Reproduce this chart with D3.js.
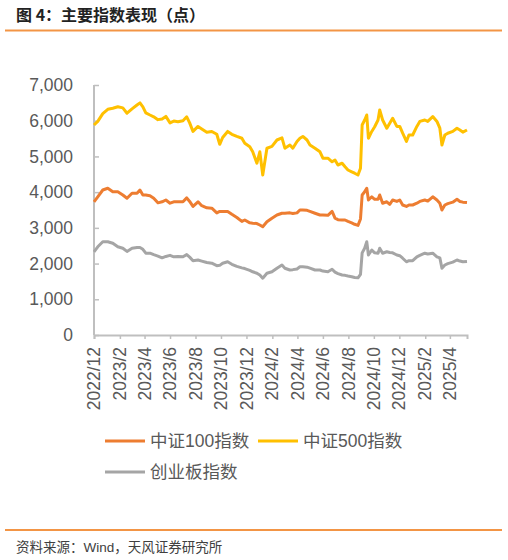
<!DOCTYPE html>
<html>
<head>
<meta charset="utf-8">
<script src="https://cdn.jsdelivr.net/npm/d3@7"></script>
<style>
  body { margin: 0; background: #fff; }
  svg text { font-family: "Liberation Sans", Arial, "Noto Sans CJK SC", sans-serif; }
  svg text.cjk { font-family: "Noto Sans CJK SC", sans-serif; }
</style>
</head>
<body>
<div id="chart"></div>
<script>
const dates = ["2022-12-01","2022-12-10","2022-12-22","2023-01-03","2023-01-15","2023-01-27","2023-02-08","2023-02-18",
  "2023-03-02","2023-03-14","2023-03-21","2023-03-28","2023-04-04","2023-04-14","2023-04-23","2023-05-03","2023-05-13",
  "2023-05-22","2023-06-01","2023-06-10","2023-06-20","2023-07-02","2023-07-11","2023-07-18","2023-07-26","2023-08-07",
  "2023-08-16","2023-08-28","2023-09-09","2023-09-21","2023-09-28","2023-10-05","2023-10-17","2023-10-27","2023-11-08",
  "2023-11-20","2023-11-27","2023-12-09","2023-12-16","2023-12-26","2024-01-02","2024-01-09","2024-01-19","2024-01-31",
  "2024-02-12","2024-02-24","2024-03-02","2024-03-14","2024-03-21","2024-03-31","2024-04-07","2024-04-14","2024-04-24",
  "2024-05-01","2024-05-13","2024-05-25","2024-06-01","2024-06-13","2024-06-23","2024-06-30","2024-07-07","2024-07-17",
  "2024-07-24","2024-07-31","2024-08-09","2024-08-16","2024-08-24","2024-08-30","2024-09-03","2024-09-09","2024-09-14",
  "2024-09-18","2024-09-26","2024-10-03","2024-10-11","2024-10-15","2024-10-22","2024-11-01","2024-11-08","2024-11-15",
  "2024-11-25","2024-12-02","2024-12-09","2024-12-18","2024-12-24","2025-01-02","2025-01-12","2025-01-19","2025-01-31",
  "2025-02-07","2025-02-19","2025-03-01","2025-03-08","2025-03-13","2025-03-20","2025-03-27","2025-04-08","2025-04-18",
  "2025-04-25","2025-05-02","2025-05-12"];

const csi100 = [3730,3870,4060,4110,4010,4010,3920,3830,3970,3970,4060,3920,3920,3900,3830,3700,3730,3780,3690,3730,
  3730,3730,3840,3740,3600,3730,3620,3560,3550,3420,3460,3460,3460,3380,3290,3180,3220,3140,3130,3120,3080,3030,3170,
  3270,3360,3410,3410,3420,3400,3420,3500,3500,3490,3460,3410,3360,3360,3350,3460,3270,3230,3220,3220,3180,3140,3100,
  3070,3250,3920,4010,4110,3780,3870,3800,3800,3920,3690,3730,3660,3780,3740,3780,3640,3600,3640,3640,3690,3740,3780,
  3750,3870,3780,3690,3500,3640,3680,3720,3800,3740,3720,3710];

const csi500 = [5880,5980,6200,6320,6350,6390,6360,6210,6330,6440,6500,6390,6220,6160,6110,6030,6050,6120,5940,5990,
  5970,6000,6110,5940,5700,5840,5770,5680,5700,5620,5340,5530,5700,5620,5560,5510,5370,5270,5130,4810,5130,4480,5230,
  5280,5460,5520,5230,5320,5230,5420,5510,5560,5460,5320,5230,5130,4950,4950,4850,4900,4760,4810,4710,4620,4570,4530,
  4480,4670,5880,6020,6160,5510,5700,5830,6020,6300,6020,5790,5930,6070,5840,5840,5650,5420,5600,5600,5840,5980,6020,
  5980,6115,5980,5790,5320,5600,5650,5700,5790,5740,5680,5740];

const chinext = [2330,2470,2610,2610,2570,2470,2430,2340,2430,2450,2450,2400,2290,2290,2250,2210,2160,2200,2230,2190,
  2200,2190,2250,2180,2080,2100,2070,2030,2010,1940,1950,2010,2050,1980,1920,1880,1860,1810,1770,1730,1680,1590,1730,
  1770,1870,1960,1870,1820,1830,1850,1910,1910,1900,1870,1820,1820,1790,1770,1840,1760,1720,1680,1670,1650,1630,1610,
  1600,1700,2300,2430,2610,2240,2380,2300,2290,2430,2290,2330,2310,2300,2240,2220,2150,2050,2080,2080,2190,2230,2290,
  2270,2290,2190,2160,1870,1960,2000,2040,2100,2070,2050,2060];

const seriesNames = ["中证100指数", "中证500指数", "创业板指数"];
const seriesColors = ["#ED7D31", "#FFC000", "#A5A5A5"];

const yTicks = [0, 1000, 2000, 3000, 4000, 5000, 6000, 7000];
const xTickDates = ["2022-12-01","2023-02-01","2023-04-01","2023-06-01","2023-08-01","2023-10-01","2023-12-01",
  "2024-02-01","2024-04-01","2024-06-01","2024-08-01","2024-10-01","2024-12-01","2025-02-01","2025-04-01"];
const xTickLabels = ["2022/12","2023/2","2023/4","2023/6","2023/8","2023/10","2023/12",
  "2024/2","2024/4","2024/6","2024/8","2024/10","2024/12","2025/2","2025/4"];

const width = 508, height = 560;
const margin = { top: 85, left: 94, bottom: 225, right: 41 };
const iwidth = width - margin.left - margin.right;
const iheight = height - margin.top - margin.bottom;

const parse = d3.utcParse("%Y-%m-%d");
const dateObjs = dates.map(parse);

const svg = d3.select("#chart").append("svg")
  .attr("width", width)
  .attr("height", height);

// title + separators
svg.append("text")
  .attr("class", "cjk")
  .attr("x", 16).attr("y", 21)
  .style("font-size", "16px").style("font-weight", "bold")
  .style("fill", "#222")
  .text("图 4：主要指数表现（点）");

svg.append("line").attr("x1", 5).attr("x2", 502).attr("y1", 30.5).attr("y2", 30.5)
  .attr("stroke", "#F39545").attr("stroke-width", 2);
svg.append("line").attr("x1", 5).attr("x2", 502).attr("y1", 530).attr("y2", 530)
  .attr("stroke", "#F39545").attr("stroke-width", 2);

svg.append("text")
  .attr("x", 16).attr("y", 552)
  .style("font-size", "13.5px").style("fill", "#404040")
  .text("资料来源：Wind，天风证券研究所");

const g = svg.append("g").attr("transform", `translate(${margin.left},${margin.top})`);

const x = d3.scaleUtc()
  .domain([parse(xTickDates[0]), dateObjs[dateObjs.length - 1]])
  .range([0, iwidth]);

const y = d3.scaleLinear()
  .domain([0, 7000])
  .range([iheight, 0]);

// y axis
const yAxis = g.append("g")
  .call(d3.axisRight(y).tickValues(yTicks).tickSize(5).tickFormat(""));
yAxis.select(".domain").remove();
yAxis.selectAll("line").attr("stroke", "#BFBFBF").attr("stroke-width", 1.5);
g.append("line").attr("x1", 0).attr("x2", 0).attr("y1", 0).attr("y2", iheight)
  .attr("stroke", "#BFBFBF").attr("stroke-width", 2);

g.selectAll(".ylab").data(yTicks).enter().append("text")
  .attr("class", "ylab")
  .attr("x", -21)
  .attr("y", d => y(d))
  .attr("dy", "0.35em")
  .attr("text-anchor", "end")
  .style("font-size", "17.5px").style("fill", "#595959")
  .text(d => d3.format(",")(d));

// x axis
const xAxis = g.append("g")
  .attr("transform", `translate(0,${iheight})`)
  .call(d3.axisBottom(x).tickValues(xTickDates.map(parse)).tickSize(4).tickFormat(""));
xAxis.select(".domain").attr("stroke", "#BFBFBF").attr("stroke-width", 2);
xAxis.selectAll("line").attr("stroke", "#BFBFBF").attr("stroke-width", 1.5);

g.selectAll(".xlab").data(xTickDates).enter().append("text")
  .attr("class", "xlab")
  .attr("transform", d => `translate(${x(parse(d))},${iheight + 12}) rotate(-90)`)
  .attr("dy", "0.35em")
  .attr("text-anchor", "end")
  .style("font-size", "17.5px").style("fill", "#595959")
  .text((d, i) => xTickLabels[i]);

// lines
const allSeries = [csi100, csi500, chinext];
const line = d3.line()
  .x((d, i) => x(dateObjs[i]))
  .y(d => y(d));

allSeries.forEach((s, k) => {
  g.append("path")
    .datum(s)
    .attr("fill", "none")
    .attr("stroke", seriesColors[k])
    .attr("stroke-width", 3)
    .attr("stroke-linejoin", "round")
    .attr("d", line);
});

// legend
const legendItems = [
  { x: 105, y: 441 },
  { x: 258, y: 441 },
  { x: 105, y: 472 }
];
legendItems.forEach((p, k) => {
  svg.append("line")
    .attr("x1", p.x).attr("x2", p.x + 40)
    .attr("y1", p.y).attr("y2", p.y)
    .attr("stroke", seriesColors[k]).attr("stroke-width", 3);
  svg.append("text")
    .attr("x", p.x + 45).attr("y", p.y)
    .attr("dy", "0.35em")
    .style("font-size", "17.5px").style("fill", "#595959")
    .text(seriesNames[k]);
});
</script>
</body>
</html>
